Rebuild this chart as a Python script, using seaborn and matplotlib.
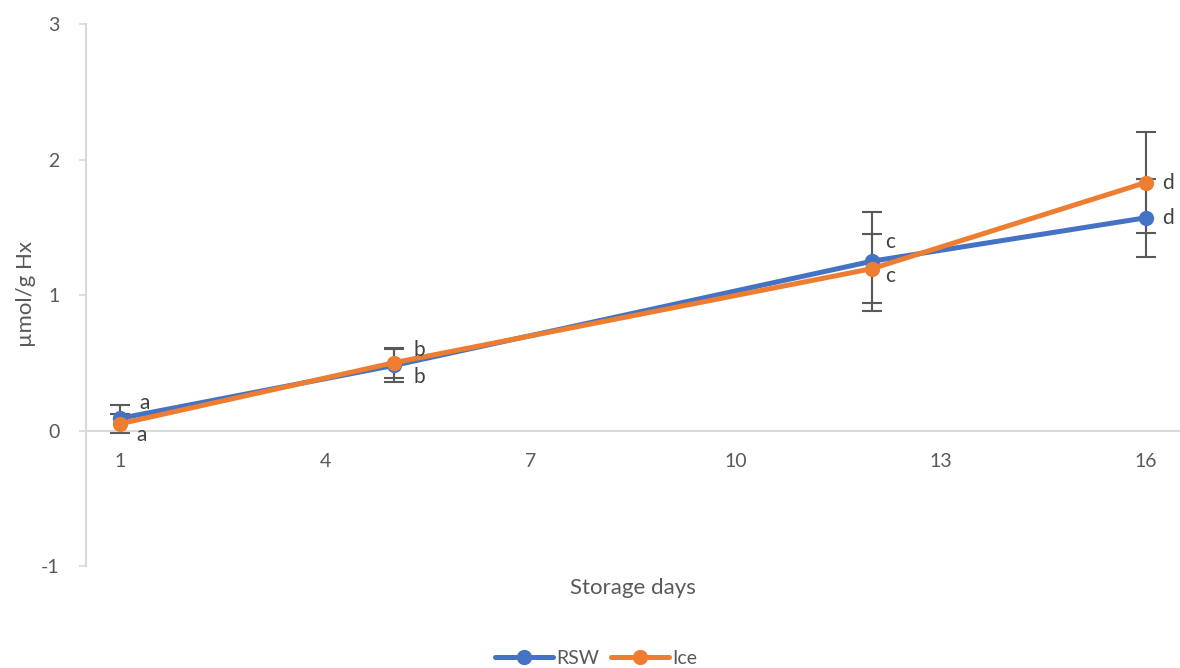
import matplotlib
matplotlib.use("Agg")
import matplotlib.pyplot as plt
import seaborn as sns
import pandas as pd
from matplotlib.lines import Line2D

days = [1, 5, 12, 16]
rsw_mean = [0.09, 0.48, 1.25, 1.57]
rsw_err = [0.10, 0.12, 0.365, 0.29]
ice_mean = [0.05, 0.50, 1.195, 1.83]
ice_err = [0.07, 0.11, 0.255, 0.37]
rsw_letters = ["a", "b", "c", "d"]
ice_letters = ["a", "b", "c", "d"]
x_ticks = [1, 4, 7, 10, 13, 16]
y_ticks = [-1, 0, 1, 2, 3]

sns.set_theme(style="white")
plt.rcParams["font.family"] = ["Lato", "DejaVu Sans"]
plt.rcParams["axes.unicode_minus"] = False

blue = "#4472C4"
orange = "#ED7D31"
grey_text = "#595959"
axis_grey = "#D9D9D9"

df = pd.DataFrame({
    "day": days * 2,
    "value": rsw_mean + ice_mean,
    "group": ["RSW"] * len(days) + ["Ice"] * len(days),
})

fig = plt.figure(figsize=(11.8, 6.68), dpi=100)
ax = fig.add_axes([0.0729, 0.1527, 0.927, 0.8113])

# error bars behind the lines
for mean, err in ((rsw_mean, rsw_err), (ice_mean, ice_err)):
    ax.errorbar(days, mean, yerr=err, fmt="none", ecolor="#595959",
                elinewidth=1.5, capsize=7, capthick=1.5, zorder=2)

sns.lineplot(data=df, x="day", y="value", hue="group",
             palette={"RSW": blue, "Ice": orange}, marker="o",
             markersize=11, markeredgewidth=0, linewidth=3.6,
             ax=ax, zorder=3, legend=False)

# significance letters next to each point
offsets_rsw = [(14, 11), (14, 11), (9, 14), (12, 0)]
offsets_ice = [(12, -8), (14, -10), (9, -5), (12, 0)]
for d, m, lab, off in zip(days, rsw_mean, rsw_letters, offsets_rsw):
    ax.annotate(lab, (d, m), xytext=off, textcoords="offset points",
                fontsize=15, color="#404040", va="center", ha="left")
for d, m, lab, off in zip(days, ice_mean, ice_letters, offsets_ice):
    ax.annotate(lab, (d, m), xytext=off, textcoords="offset points",
                fontsize=15, color="#404040", va="center", ha="left")

ax.set_xlim(0.5, 16.5)
ax.set_ylim(-1, 3)
ax.set_xticks(x_ticks)
ax.set_yticks(y_ticks)
ax.set_xticklabels([str(t) for t in x_ticks])

for s in ("top", "right"):
    ax.spines[s].set_visible(False)
ax.spines["bottom"].set_position(("data", 0))
ax.spines["bottom"].set_color(axis_grey)
ax.spines["bottom"].set_linewidth(1.5)
ax.spines["left"].set_color(axis_grey)
ax.spines["left"].set_linewidth(1.5)

ax.tick_params(axis="x", length=0, pad=16, labelsize=14, colors=grey_text)
ax.tick_params(axis="y", length=5, width=1.2, color=axis_grey, pad=14,
               labelsize=14, labelcolor=grey_text, left=True)

ax.set_xlabel("")
ax.set_ylabel("")
fig.text(0.536, 0.12, "Storage days", ha="center", va="center",
         fontsize=16, color=grey_text)
fig.text(0.022, 0.56, "µmol/g Hx", ha="center", va="center",
         rotation=90, fontsize=16, color=grey_text)

handles = [Line2D([], [], color=blue, lw=3.6, marker="o", markersize=11, markeredgewidth=0),
           Line2D([], [], color=orange, lw=3.6, marker="o", markersize=11, markeredgewidth=0)]
fig.legend(handles, ["RSW", "Ice"], loc="center", bbox_to_anchor=(0.505, 0.014),
           ncol=2, frameon=False, fontsize=14, handlelength=3.0,
           handletextpad=0.15, columnspacing=0.6, labelcolor=grey_text)

fig.savefig("out.png", dpi=100)
